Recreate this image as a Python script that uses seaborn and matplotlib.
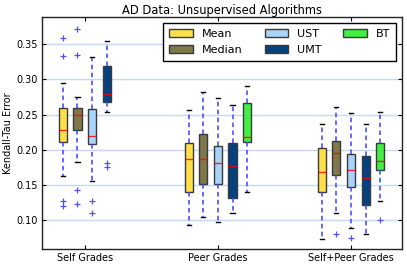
import numpy as np
import pandas as pd
import matplotlib
matplotlib.use("Agg")
import matplotlib.pyplot as plt
import seaborn as sns
from matplotlib.patches import Patch

# ---------------- data ----------------
groups = ["Self Grades", "Peer Grades", "Self+Peer Grades"]
algorithms = ["Mean", "Median", "UST", "UMT", "BT"]

self_mean = [0.120, 0.127, 0.163, 0.211, 0.220, 0.225, 0.228, 0.240, 0.250, 0.259, 0.295, 0.333, 0.358]
self_median = [0.123, 0.143, 0.183, 0.228, 0.235, 0.242, 0.249, 0.252, 0.255, 0.259, 0.275, 0.334, 0.372]
self_ust = [0.111, 0.127, 0.156, 0.208, 0.212, 0.217, 0.220, 0.235, 0.248, 0.258, 0.270, 0.300, 0.331]
self_umt = [0.176, 0.181, 0.253, 0.268, 0.272, 0.275, 0.279, 0.290, 0.305, 0.319, 0.330, 0.342, 0.355]

peer_mean = [0.094, 0.140, 0.187, 0.210, 0.257]
peer_median = [0.104, 0.151, 0.187, 0.223, 0.282]
peer_ust = [0.097, 0.151, 0.181, 0.206, 0.273]
peer_umt = [0.110, 0.131, 0.177, 0.210, 0.263]
peer_bt = [0.140, 0.211, 0.218, 0.267, 0.290]

both_mean = [0.074, 0.140, 0.168, 0.202, 0.237]
both_median = [0.080, 0.111, 0.164, 0.180, 0.196, 0.204, 0.212, 0.240, 0.261]
both_ust = [0.075, 0.089, 0.147, 0.160, 0.171, 0.183, 0.194, 0.220, 0.252]
both_umt = [0.080, 0.121, 0.160, 0.191, 0.237]
both_bt = [0.101, 0.127, 0.172, 0.178, 0.184, 0.195, 0.209, 0.230, 0.253]

samples = {
    "Self Grades": {"Mean": self_mean, "Median": self_median, "UST": self_ust, "UMT": self_umt},
    "Peer Grades": {"Mean": peer_mean, "Median": peer_median, "UST": peer_ust,
                    "UMT": peer_umt, "BT": peer_bt},
    "Self+Peer Grades": {"Mean": both_mean, "Median": both_median, "UST": both_ust,
                         "UMT": both_umt, "BT": both_bt},
}

colors = {"Mean": "#FFE04A", "Median": "#7E784B", "UST": "#A9D4F7",
          "UMT": "#04427F", "BT": "#42F044"}

# ---------------- build long table ----------------
spacing = 0.11
rows = []
for gi, g in enumerate(groups):
    present = [a for a in algorithms if a in samples[g]]
    n = len(present)
    for ai, a in enumerate(present):
        pos = round(gi + 1 + (ai - (n - 1) / 2) * spacing, 4)
        for v in samples[g][a]:
            rows.append({"pos": pos, "val": v, "alg": a})
df = pd.DataFrame(rows)

# ---------------- plot ----------------
plt.rcParams["font.family"] = ["DejaVu Sans"]
fig = plt.figure(figsize=(4.07, 2.68), dpi=100)
ax = fig.add_axes([0.104, 0.070, 0.883, 0.865])

sns.boxplot(
    data=df, x="pos", y="val", hue="alg", hue_order=algorithms, palette=colors,
    native_scale=True, dodge=False, width=0.56, saturation=1, linewidth=1,
    linecolor="#3a3a3a", whis=1.5, legend=False, ax=ax,
    medianprops=dict(color="red", alpha=0.8, linewidth=1),
    whiskerprops=dict(color="#4040ff", linestyle=(0, (3, 2.2)), linewidth=1.1),
    capprops=dict(color="black", linewidth=1),
    flierprops=dict(marker="+", markeredgecolor="#5050ff", markerfacecolor="none",
                    markersize=5, markeredgewidth=0.9, linestyle="none"),
)

ax.set_xlim(0.681, 3.381)
ax.set_ylim(0.0589, 0.3878)
ax.set_xticks([1, 2, 3])
ax.set_xticklabels(groups, fontsize=7)
ax.set_yticks([0.10, 0.15, 0.20, 0.25, 0.30, 0.35])
ax.set_yticklabels(["0.10", "0.15", "0.20", "0.25", "0.30", "0.35"], fontsize=7)
ax.set_xlabel("")
ax.set_ylabel("Kendall-Tau Error", fontsize=7, labelpad=2.5)
ax.set_title("AD Data: Unsupervised Algorithms", fontsize=8.3, pad=2.5)

ax.yaxis.grid(True, color="#c4d9f6", linewidth=1)
ax.xaxis.grid(False)
ax.set_axisbelow(True)
ax.tick_params(direction="in", top=True, right=True, length=3, width=0.8, pad=3)
for s in ax.spines.values():
    s.set_color("#222222")
    s.set_linewidth(1)

handles = [Patch(facecolor=colors[a], edgecolor="#3a3a3a", linewidth=1, label=a)
           for a in algorithms]
leg = ax.legend(handles=handles, ncol=3, loc="upper right", fontsize=8,
                fancybox=False, framealpha=1, edgecolor="black",
                handlelength=2.1, handleheight=0.7, columnspacing=2.0,
                borderpad=0.55, labelspacing=0.5, borderaxespad=0.5)
leg.get_frame().set_linewidth(1)

fig.savefig("out.png", dpi=100)
